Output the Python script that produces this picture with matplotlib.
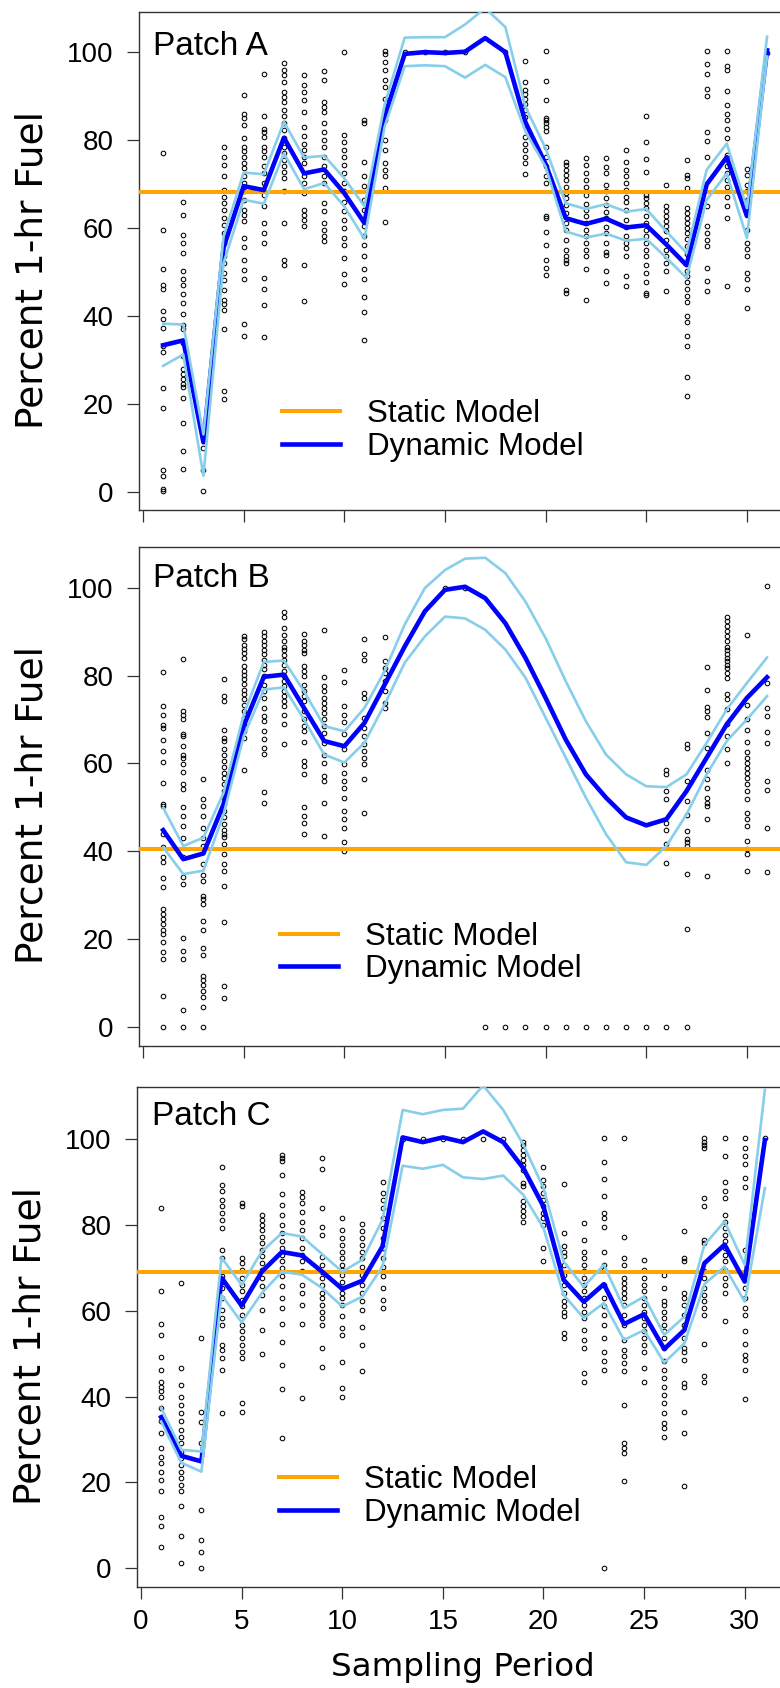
import matplotlib
matplotlib.use("Agg")
import matplotlib.pyplot as plt

plt.rcParams['font.family'] = ['Liberation Sans', 'DejaVu Sans']

# ---------------- data ----------------
periods = list(range(1, 32))
x_ticks = [0, 5, 10, 15, 20, 25, 30]
y_ticks = [0, 20, 40, 60, 80, 100]
panel_titles = ["Patch A", "Patch B", "Patch C"]
legend_labels = ["Static Model", "Dynamic Model"]
x_label = "Sampling Period"
y_label = "Percent 1-hr Fuel"

static_A = 68.25
static_B = 40.6
static_C = 69.0

dyn_A = [33.3, 34.4, 11.2, 55.5, 69.5, 68.6, 80.5, 72.4, 73.3, 67.9, 61.1, 85.3, 99.6, 100.0, 99.8,
         100.1, 103.2, 100.0, 84.0, 74.5, 62.2, 60.9, 62.1, 60.1, 60.6, 56.2, 51.5, 69.9, 76.1, 62.7, 100.4]
up_A = [38.2, 38.0, 13.0, 58.0, 72.6, 72.2, 84.1, 76.0, 76.4, 71.3, 64.9, 88.0, 103.3, 103.4, 103.4,
        106.3, 110.0, 105.7, 87.5, 78.1, 65.6, 64.3, 65.4, 63.7, 64.3, 59.2, 54.3, 73.2, 79.2, 64.5, 103.5]
lo_A = [28.6, 31.2, 3.6, 52.0, 66.4, 65.5, 77.0, 68.8, 70.2, 64.9, 57.5, 83.0, 96.8, 97.0, 96.8,
        94.2, 97.1, 94.3, 81.9, 73.9, 59.2, 57.8, 58.7, 57.1, 57.5, 53.2, 48.6, 66.4, 72.4, 57.7, 99.0]

dyn_B = [44.8, 38.2, 39.5, 50.7, 68.5, 79.7, 80.2, 72.6, 65.1, 63.9, 69.2, 77.9, 86.6, 94.6, 99.5,
         100.2, 97.6, 91.9, 84.0, 74.9, 65.4, 57.5, 52.2, 47.7, 45.9, 47.3, 53.7, 61.3, 68.9, 74.9, 79.6]
up_B = [49.9, 41.2, 43.1, 53.3, 71.1, 83.1, 83.4, 76.4, 68.5, 67.3, 72.6, 81.0, 91.6, 99.9, 104.0,
        106.6, 106.8, 103.3, 96.8, 88.5, 78.7, 69.6, 62.0, 57.5, 54.8, 54.6, 57.5, 64.7, 72.3, 78.3, 84.1]
lo_B = [40.9, 34.8, 35.6, 48.4, 66.2, 76.8, 77.3, 70.0, 62.0, 60.2, 64.7, 73.4, 82.9, 88.9, 93.4,
        93.0, 90.4, 85.9, 79.5, 70.4, 61.3, 52.2, 43.9, 37.5, 36.9, 41.2, 48.4, 57.5, 65.1, 70.0, 75.3]

dyn_C = [35.2, 26.2, 24.9, 67.7, 61.2, 69.1, 73.7, 72.9, 69.1, 65.1, 67.0, 75.0, 100.4, 99.3, 100.4,
         99.3, 101.8, 99.3, 93.2, 84.3, 67.2, 62.1, 66.2, 56.9, 59.2, 51.1, 55.5, 71.1, 75.4, 66.8, 99.8]
up_C = [37.4, 27.6, 27.2, 72.4, 66.0, 73.8, 78.1, 77.3, 73.2, 69.1, 71.9, 81.2, 106.8, 105.8, 106.8,
        107.1, 112.5, 106.8, 98.7, 88.6, 71.5, 65.6, 70.7, 60.6, 63.3, 54.4, 58.6, 75.4, 80.8, 70.7, 111.5]
lo_C = [34.2, 24.6, 22.5, 63.7, 57.3, 64.1, 69.1, 68.4, 65.3, 61.0, 63.3, 70.3, 93.8, 93.1, 94.0,
        91.1, 90.7, 91.5, 87.0, 79.3, 63.7, 58.3, 61.8, 53.2, 55.5, 47.9, 52.4, 66.2, 70.3, 62.1, 88.6]

# observations, one list per sampling period (1..31)
obs_A = [
    [77.1, 59.6, 50.6, 46.9, 46.1, 41.0, 39.3, 37.3, 33.2, 31.7, 23.5, 19.0, 4.8, 3.6, 0.6, 0.1],
    [66.0, 63.0, 58.4, 56.5, 54.3, 50.3, 48.3, 46.9, 45.0, 43.0, 40.3, 37.8, 36.9, 33.9, 30.8, 27.8,
     26.7, 25.6, 24.4, 23.7, 21.4, 15.6, 9.3, 5.1],
    [9.8, 4.8, 0.1],
    [78.5, 76.2, 74.3, 71.7, 68.6, 67.1, 65.6, 64.1, 62.2, 60.7, 58.8, 56.5, 53.5, 52.0, 49.7, 48.2,
     45.9, 43.7, 42.6, 41.4, 37.1, 22.9, 21.0],
    [90.3, 85.9, 84.9, 83.4, 80.4, 78.5, 77.4, 76.2, 74.7, 73.6, 71.7, 70.2, 68.3, 66.4, 64.1, 63.0,
     61.5, 57.7, 55.6, 52.6, 50.4, 48.4, 38.2, 35.5],
    [95.1, 85.4, 82.6, 81.8, 80.7, 78.5, 77.4, 76.2, 74.0, 72.4, 70.2, 67.5, 64.9, 61.1, 58.8, 56.5,
     48.6, 46.0, 42.4, 35.2],
    [97.6, 95.9, 94.7, 93.2, 90.9, 89.8, 88.7, 86.8, 85.4, 83.8, 82.3, 80.4, 78.5, 77.0, 75.5, 74.0,
     72.8, 71.3, 68.3, 61.2, 52.8, 51.6],
    [94.7, 92.5, 91.0, 89.1, 86.4, 83.0, 80.9, 79.2, 77.7, 76.2, 74.7, 71.7, 70.2, 67.9, 64.1, 63.0,
     61.9, 60.5, 51.6, 43.3],
    [95.6, 93.6, 88.7, 87.5, 86.4, 83.8, 81.9, 80.0, 78.5, 76.2, 74.0, 71.7, 70.2, 65.6, 63.8, 61.2,
     59.6, 58.1, 57.0],
    [100.0, 81.1, 79.6, 77.7, 76.2, 74.3, 72.4, 70.2, 68.3, 66.0, 63.8, 61.9, 60.0, 57.7, 56.2, 53.2,
     49.4, 47.3],
    [84.5, 83.8, 75.1, 71.7, 69.5, 66.4, 64.1, 60.4, 58.1, 56.2, 53.5, 50.6, 48.4, 44.3, 40.9, 34.5],
    [100.2, 99.6, 97.7, 95.9, 93.6, 92.1, 89.4, 86.8, 84.5, 80.0, 77.7, 74.7, 73.2, 71.7, 69.0, 61.4],
    [100.0], [100.0], [100.0], [100.0], [], [100.0],
    [98.0, 93.2, 91.3, 90.5, 89.4, 88.3, 86.8, 85.3, 83.4, 80.7, 79.2, 77.7, 76.2, 74.7, 72.3],
    [100.2, 93.4, 89.2, 84.9, 84.5, 83.8, 83.0, 82.1, 78.5, 76.2, 74.0, 71.7, 70.2, 62.6, 62.3, 59.0,
     56.2, 52.8, 50.9, 49.2],
    [75.1, 74.3, 73.2, 72.0, 70.9, 69.4, 67.9, 66.7, 65.2, 63.3, 61.0, 59.5, 57.2, 55.0, 53.5, 52.7,
     52.0, 45.9, 45.2],
    [75.8, 74.3, 72.4, 70.8, 69.4, 67.5, 65.5, 64.1, 62.6, 61.1, 59.6, 58.1, 56.5, 55.0, 53.5, 50.6, 43.7],
    [75.8, 73.9, 72.4, 69.8, 68.3, 66.7, 65.2, 63.7, 62.2, 60.3, 58.8, 56.5, 54.6, 53.9, 50.1, 47.5],
    [77.7, 75.1, 73.2, 71.7, 70.2, 68.6, 67.1, 65.8, 64.1, 61.9, 60.3, 58.1, 56.5, 55.4, 53.5, 49.1, 46.7],
    [85.4, 79.6, 75.6, 72.7, 67.5, 66.7, 65.6, 64.5, 62.6, 61.1, 59.6, 58.1, 56.5, 55.0, 53.5, 51.6,
     49.7, 47.8, 45.2, 44.8],
    [69.8, 64.9, 63.8, 62.6, 61.5, 60.4, 59.2, 57.3, 55.0, 53.5, 52.0, 50.1, 45.7],
    [75.4, 72.0, 71.3, 69.0, 64.5, 63.4, 62.3, 61.1, 60.0, 58.9, 57.4, 55.9, 54.0, 52.1, 50.2, 49.1,
     47.6, 46.1, 44.6, 43.1, 40.0, 38.5, 35.5, 33.2, 26.0, 21.8],
    [100.2, 97.4, 95.1, 91.7, 90.0, 81.9, 79.8, 76.2, 64.9, 60.4, 58.8, 57.3, 55.8, 50.9, 47.9, 45.7],
    [100.2, 96.8, 96.0, 91.2, 87.9, 86.0, 84.5, 82.6, 80.4, 76.6, 74.0, 72.4, 70.9, 69.4, 67.1, 64.9,
     62.2, 46.7],
    [73.3, 72.0, 69.8, 68.3, 66.4, 63.4, 59.6, 56.6, 55.1, 53.6, 49.8, 48.3, 46.0, 41.8],
    [99.8],
]

obs_B = [
    [80.7, 73.0, 71.1, 68.8, 68.1, 65.4, 62.9, 60.4, 55.6, 50.7, 50.3, 43.9, 40.9, 38.6, 37.5, 34.0,
     31.9, 26.9, 25.7, 24.6, 23.5, 22.0, 21.2, 19.3, 17.0, 15.5, 7.0, 0.0],
    [83.8, 71.9, 71.1, 70.0, 66.7, 66.2, 63.9, 62.0, 61.3, 59.8, 58.1, 55.3, 54.1, 50.0, 48.1, 45.8,
     43.1, 38.6, 34.1, 32.6, 20.3, 17.3, 15.5, 3.9, 0.0],
    [56.4, 51.8, 50.3, 48.0, 45.4, 43.1, 41.2, 37.0, 34.7, 33.3, 29.9, 29.2, 28.0, 24.2, 22.1, 18.0,
     16.5, 11.7, 10.6, 9.5, 8.3, 6.8, 4.5, 0.0],
    [79.1, 75.3, 74.1, 67.7, 65.8, 65.0, 63.2, 62.0, 60.5, 59.2, 57.9, 56.7, 55.2, 53.7, 52.2, 50.7,
     49.2, 47.7, 46.2, 44.8, 43.9, 43.2, 41.6, 39.4, 37.1, 35.6, 32.0, 24.0, 9.3, 6.6],
    [89.1, 88.2, 87.0, 86.1, 85.1, 84.0, 82.1, 81.1, 80.2, 79.1, 78.0, 76.8, 75.7, 74.6, 73.4, 71.9,
     70.4, 68.9, 67.3, 65.8, 58.4],
    [89.9, 88.9, 87.8, 87.0, 85.9, 84.8, 83.6, 82.5, 81.4, 79.8, 77.9, 76.4, 74.9, 72.6, 70.7, 69.6,
     67.3, 65.5, 63.6, 62.1, 53.4, 50.9],
    [94.4, 93.4, 90.9, 89.3, 87.8, 86.6, 85.7, 84.7, 83.6, 82.5, 81.1, 79.8, 78.7, 77.5, 76.4, 75.3,
     74.1, 73.0, 71.1, 68.9, 64.3],
    [89.4, 87.8, 87.0, 85.9, 85.1, 82.1, 81.0, 79.8, 77.9, 76.4, 75.3, 74.1, 71.9, 70.0, 68.5, 67.3,
     64.9, 60.5, 59.4, 57.5, 50.0, 48.0, 46.5, 43.9],
    [90.3, 79.6, 77.6, 76.4, 74.9, 73.8, 72.6, 71.5, 70.0, 68.5, 67.0, 64.7, 62.0, 60.1, 57.1, 56.0,
     50.9, 43.5],
    [81.3, 78.5, 73.0, 71.1, 69.4, 66.6, 63.2, 59.8, 57.9, 56.0, 54.5, 52.2, 49.2, 47.3, 45.2, 42.0, 40.0],
    [88.3, 84.8, 83.6, 76.0, 74.9, 70.4, 68.1, 66.2, 64.3, 62.8, 61.3, 59.8, 56.4, 48.8],
    [88.7, 83.2, 81.7, 80.5, 78.7, 76.4, 73.8, 72.6],
    [], [], [100.0], [100.0],
    [0.0], [0.0], [0.0], [0.0], [0.0], [0.0], [0.0], [0.0], [0.0],
    [58.6, 57.5, 53.7, 51.8, 46.5, 44.8, 41.6, 37.3, 0.0],
    [64.3, 63.4, 56.1, 51.5, 48.3, 44.7, 42.8, 42.0, 41.3, 34.8, 22.3, 0.0],
    [81.9, 76.6, 72.8, 71.9, 70.5, 67.0, 63.6, 58.6, 56.4, 54.5, 52.2, 51.1, 50.3, 47.4, 34.4],
    [93.4, 92.5, 91.2, 90.2, 88.9, 87.8, 86.6, 85.7, 84.8, 84.0, 83.3, 82.5, 81.8, 80.6, 79.5, 75.7,
     74.6, 72.3, 68.9, 66.2, 63.2, 60.2],
    [89.3, 73.4, 70.0, 67.7, 64.9, 62.6, 61.3, 60.2, 59.0, 57.9, 56.7, 55.2, 53.7, 51.8, 48.8, 47.3,
     45.8, 42.4, 40.5, 39.3, 35.6],
    [100.3, 78.3, 72.6, 70.7, 67.2, 64.7, 56.1, 53.9, 45.4, 35.2],
]

obs_C = [
    [83.9, 64.7, 56.9, 54.3, 49.3, 46.2, 43.5, 42.3, 41.2, 40.0, 37.4, 34.2, 31.5, 28.0, 26.0, 24.5,
     22.5, 20.6, 18.0, 12.0, 9.9, 5.0],
    [66.4, 46.6, 42.7, 40.0, 38.1, 36.1, 34.2, 32.2, 30.7, 29.1, 27.2, 25.6, 24.1, 22.5, 21.0, 19.4,
     18.0, 14.4, 7.4, 1.2],
    [53.6, 36.5, 34.0, 29.1, 13.6, 6.6, 3.9, 0.1],
    [93.6, 89.3, 87.8, 85.9, 84.3, 82.8, 81.2, 79.4, 74.2, 72.3, 68.0, 66.8, 65.3, 62.9, 60.2, 58.3,
     56.7, 52.0, 50.9, 49.1, 46.2, 36.1],
    [85.1, 84.3, 72.4, 71.1, 69.5, 67.6, 66.0, 64.5, 62.5, 61.0, 59.0, 56.7, 55.2, 53.6, 52.1, 50.5,
     48.9, 38.5, 36.3],
    [82.3, 81.2, 80.0, 78.8, 77.3, 75.8, 74.2, 72.7, 71.1, 69.6, 67.6, 65.7, 63.7, 60.2, 55.6, 49.9],
    [96.3, 95.6, 94.8, 91.7, 87.2, 84.7, 82.4, 80.0, 78.1, 76.2, 74.6, 73.0, 71.5, 69.9, 68.0, 65.7,
     62.9, 60.6, 56.9, 52.8, 47.4, 41.8, 30.3],
    [87.6, 86.6, 85.1, 83.1, 80.8, 78.9, 77.0, 74.6, 73.0, 71.5, 69.2, 66.0, 64.1, 61.4, 56.9, 39.6],
    [95.7, 93.1, 83.9, 79.6, 77.7, 72.6, 70.7, 69.1, 67.6, 66.0, 64.1, 62.9, 61.4, 59.8, 58.3, 56.7,
     51.3, 47.0],
    [81.6, 78.9, 77.0, 75.4, 73.8, 72.3, 70.7, 69.5, 68.4, 66.8, 65.3, 64.1, 62.9, 61.4, 58.7, 56.0,
     54.4, 48.0, 42.1, 39.8],
    [80.2, 78.5, 77.0, 75.4, 73.8, 72.3, 70.3, 68.4, 66.0, 64.1, 62.2, 60.2, 56.3, 52.1, 46.0],
    [90.0, 87.4, 85.9, 83.9, 81.7, 79.3, 76.9, 74.6, 72.3, 70.3, 68.0, 65.3, 62.5, 60.6],
    [100.0], [100.0], [100.0], [100.0], [100.0], [100.0],
    [99.4, 98.7, 97.5, 96.3, 95.2, 94.0, 92.8, 89.7, 89.0, 85.5, 84.3, 83.2, 82.0, 80.8],
    [93.6, 90.5, 89.0, 87.4, 85.9, 84.3, 82.8, 81.6, 80.0, 74.6, 71.5],
    [89.5, 78.1, 75.0, 73.8, 72.7, 70.7, 68.4, 66.0, 64.1, 62.2, 61.0, 59.8, 58.7, 54.8, 53.6],
    [80.4, 76.5, 73.8, 72.3, 70.7, 69.2, 67.6, 66.0, 64.5, 62.9, 61.4, 59.8, 58.3, 55.6, 53.2, 51.3,
     45.5, 43.5],
    [100.2, 94.6, 90.7, 86.8, 82.7, 81.7, 79.5, 73.7, 70.7, 69.5, 66.0, 62.9, 61.0, 59.0, 56.7, 53.6,
     50.5, 48.2, 46.2, 0.1],
    [100.2, 77.1, 72.3, 70.7, 67.6, 66.4, 65.3, 64.1, 62.9, 61.4, 59.0, 56.7, 53.2, 50.9, 49.4, 47.8,
     45.9, 38.1, 29.1, 28.0, 26.8, 20.4],
    [71.9, 69.5, 67.6, 66.0, 64.5, 62.9, 61.4, 59.8, 58.3, 56.7, 55.2, 53.6, 52.1, 50.5, 46.6, 43.5],
    [68.4, 65.3, 62.3, 61.4, 59.8, 58.3, 56.7, 55.2, 53.6, 51.3, 48.2, 46.2, 44.3, 42.3, 40.4, 38.5,
     36.1, 33.8, 32.6, 30.7],
    [78.5, 72.3, 71.5, 64.1, 62.9, 61.4, 59.0, 56.7, 53.6, 51.3, 50.5, 48.6, 43.1, 42.3, 36.5, 31.5, 19.2],
    [100.2, 99.4, 98.7, 97.9, 86.2, 84.5, 76.5, 75.8, 69.2, 67.6, 65.3, 63.7, 62.2, 60.6, 59.0, 52.2,
     44.7, 43.5],
    [100.2, 96.0, 89.9, 87.8, 86.2, 82.4, 80.8, 79.3, 77.7, 76.2, 74.6, 73.0, 71.5, 69.5, 67.6, 66.0,
     64.1, 57.7],
    [100.2, 97.9, 96.0, 94.2, 90.9, 88.8, 74.2, 65.3, 62.9, 60.6, 59.0, 55.2, 52.2, 49.7, 48.6, 46.2, 39.4],
    [100.2],
]

# ---------------- styling ----------------
ORANGE = "#FFA500"
BLUE = "#0000FF"
SKY = "#87CEEB"
W, H = 780, 1688

fig = plt.figure(figsize=(W / 100, H / 100), dpi=100)


def axes_px(left, top, right, bottom):
    return fig.add_axes([left / W, 1 - bottom / H, (right - left) / W, (bottom - top) / H])


panels = [
    dict(rect=(139, 11.7, 791.2, 510.0), ylim=(-4.2, 109.2), obs=obs_A, dyn=dyn_A, up=up_A, lo=lo_A,
         static=static_A, title_xy=(0.0215, 0.913), leg_xy=(0.2193, 0.1595), xlabels=False),
    dict(rect=(139, 547.2, 791.2, 1045.5), ylim=(-4.2, 109.2), obs=obs_B, dyn=dyn_B, up=up_B, lo=lo_B,
         static=static_B, title_xy=(0.0209, 0.9207), leg_xy=(0.2167, 0.1856), xlabels=False),
    dict(rect=(137, 1087.2, 789.0, 1586.7), ylim=(-4.3, 112.1), obs=obs_C, dyn=dyn_C, up=up_C, lo=lo_C,
         static=static_C, title_xy=(0.0224, 0.9243), leg_xy=(0.2173, 0.1802), xlabels=True),
]

for i, p in enumerate(panels):
    ax = axes_px(*p["rect"])
    ax.set_xlim(-0.2, 32.2)
    ax.set_ylim(*p["ylim"])

    xs, ys = [], []
    for per, vals in zip(periods, p["obs"]):
        xs.extend([per] * len(vals))
        ys.extend(vals)
    ax.plot(xs, ys, linestyle="none", marker="o", ms=3.3, mfc="none", mec="black", mew=0.75,
            zorder=2, clip_on=True)

    static_line = ax.axhline(p["static"], color=ORANGE, lw=2.9, zorder=3)
    dyn_line, = ax.plot(periods, p["dyn"], color=BLUE, lw=3.3, zorder=4)
    ax.plot(periods, p["up"], color=SKY, lw=1.9, zorder=5)
    ax.plot(periods, p["lo"], color=SKY, lw=1.9, zorder=5)

    ax.set_xticks(x_ticks)
    ax.set_yticks(y_ticks)
    ax.tick_params(axis="both", direction="out", length=8.8, width=0.9, color="#333333",
                   labelsize=20, labelcolor="black")
    ax.tick_params(axis="y", pad=9.5)
    ax.tick_params(axis="x", pad=7.5, labelbottom=p["xlabels"])
    for s in ax.spines.values():
        s.set_color("#333333")
        s.set_linewidth(1.0)

    ax.text(p["title_xy"][0], p["title_xy"][1], panel_titles[i], transform=ax.transAxes,
            fontsize=24, ha="left", va="baseline", zorder=6)

    ax.set_ylabel(y_label, fontsize=27, family="DejaVu Sans")
    ax.yaxis.set_label_coords(-0.1355, 0.482)

    ax.legend([static_line, dyn_line], legend_labels, loc="center left", bbox_to_anchor=p["leg_xy"],
              frameon=False, fontsize=22.6, handlelength=1.85, handletextpad=0.86,
              labelspacing=0.09, borderpad=0, borderaxespad=0)

    if p["xlabels"]:
        ax.set_xlabel(x_label, fontsize=23.4, family="DejaVu Sans")
        ax.xaxis.set_label_coords(0.5, -0.1307)

fig.savefig("out.png", dpi=100)
